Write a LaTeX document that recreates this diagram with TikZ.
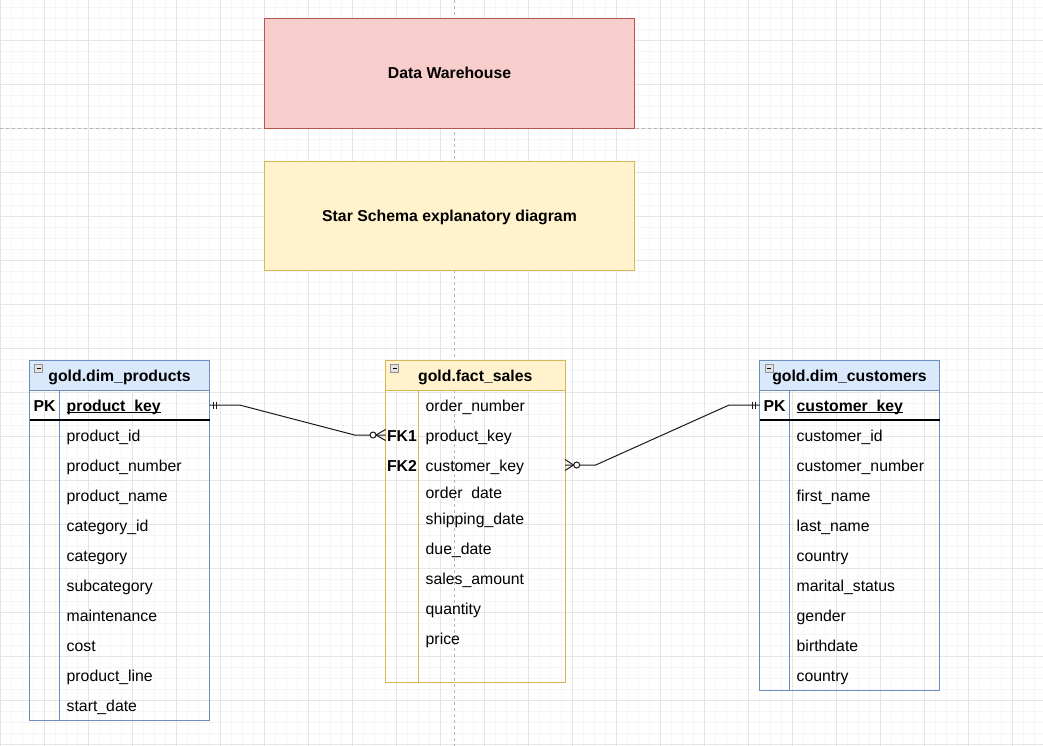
\documentclass[tikz,border=0pt]{standalone}
\usepackage{fontspec}
\setmainfont{Liberation Sans}
\usetikzlibrary{calc}
\definecolor{gridmaj}{HTML}{E5E5E5}
\definecolor{gridmin}{HTML}{F6F6F6}
\definecolor{guide}{HTML}{B3B3B3}
\definecolor{redfill}{HTML}{F8CECC}
\definecolor{redline}{HTML}{B85450}
\definecolor{yelfill}{HTML}{FFF2CC}
\definecolor{yelline}{HTML}{D6B656}
\definecolor{bluefill}{HTML}{DAE8FC}
\definecolor{blueline}{HTML}{6C8EBF}
\definecolor{connc}{HTML}{1A1A1A}
\begin{document}
\begin{tikzpicture}[x=1pt,y=-1pt,
  every node/.style={font=\fontsize{15.8}{19}\selectfont, inner sep=0pt, outer sep=0pt},
  rowtext/.style={anchor=west, text height=14pt, text depth=1.6pt},
  keytext/.style={anchor=center, font=\fontsize{15.8}{19}\selectfont\bfseries, text height=14pt, text depth=1.6pt},
  headtext/.style={keytext},
  bodybox/.style={anchor=north west, draw, line width=1pt},
  headbox/.style={anchor=north west, minimum height=30pt, draw, line width=1pt},
  titlebox/.style={minimum width=370.4pt, draw, line width=1pt, font=\fontsize{15.8}{19}\selectfont\bfseries, text height=13.5pt, text depth=2.5pt},
  conn/.style={line width=1pt, draw=connc},
  iconbox/.style={draw=gray!85, fill=gray!22, line width=0.6pt},
  gmin/.style={draw=gridmin, line width=0.8pt},
  gmaj/.style={draw=gridmaj, line width=0.9pt},
  guideline/.style={draw=guide, line width=0.8pt, dash pattern=on 3pt off 3pt},
]
\useasboundingbox (0,0) rectangle (1043,746);
\fill[white] (0,0) rectangle (1043,746);
% grid
\foreach \i in {0,...,94} \draw[gmin] ({0.7+11*\i},0) -- ({0.7+11*\i},746);
\foreach \i in {0,...,68} \draw[gmin] (0,{7.3+11*\i}) -- (1043,{7.3+11*\i});
\foreach \i in {0,...,23} \draw[gmaj] ({0.7+44*\i},0) -- ({0.7+44*\i},746);
\foreach \i in {0,...,17} \draw[gmaj] (0,{-3.7+44*\i}) -- (1043,{-3.7+44*\i});
% page guides
\draw[guideline] (454.3,0) -- (454.3,746);
\draw[guideline] (0,128.3) -- (1043,128.3);

% title boxes
\node[titlebox, fill=redfill, draw=redline, minimum height=110pt] (dw) at (449.5,73.3) {Data Warehouse};
\node[titlebox, fill=yelfill, draw=yelline, minimum height=109.3pt] (ss) at (449.5,216.3) {Star Schema explanatory diagram};

% ---------- gold.dim_products ----------
\node[bodybox, draw=blueline, minimum width=180pt, minimum height=360pt] (tP) at (29.5,360) {};
\node[headbox, fill=bluefill, draw=blueline, minimum width=180pt] (hP) at (29.5,360) {};
\node[headtext] (nP) at (hP.center) {gold.dim\_products};
\draw[iconbox] ($(hP.north west)+(5,4.5)$) rectangle ++(8,8);
\draw[line width=0.8pt] ($(hP.north west)+(7,8.5)$) -- ++(4,0);
\draw[blueline, line width=1pt] ($(tP.north west)+(30,30)$) -- ($(tP.south west)+(30,0)$);
\draw[line width=1.3pt] ($(tP.north west)+(0,60)$) -- ($(tP.north east)+(0,60)$);
\node[keytext] (kP) at ($(tP.north west)+(15,45)$) {PK};
\node[rowtext, font=\fontsize{15.8}{19}\selectfont\bfseries] (rPkey) at ($(tP.north west)+(37.2,45)$) {product\_key};
\draw[line width=1.2pt] ([yshift=-7.7pt]rPkey.west) -- ([yshift=-7.7pt]rPkey.east);
\foreach \t [count=\i] in {product\_id, product\_number, product\_name, category\_id, category, subcategory, maintenance, cost, product\_line, start\_date}
  \node[rowtext] (rP\i) at ($(tP.north west)+(37.2,{45+30*\i})$) {\t};

% ---------- gold.fact_sales ----------
\node[bodybox, draw=yelline, minimum width=179.5pt, minimum height=322pt] (tF) at (385.5,360) {};
\node[headbox, fill=yelfill, draw=yelline, minimum width=179.5pt] (hF) at (385.5,360) {};
\node[headtext] (nF) at (hF.center) {gold.fact\_sales};
\draw[iconbox] ($(hF.north west)+(5.2,4.5)$) rectangle ++(8,8);
\draw[line width=0.8pt] ($(hF.north west)+(7.2,8.5)$) -- ++(4,0);
\draw[yelline, line width=1pt] ($(tF.north west)+(33,30)$) -- ($(tF.south west)+(33,0)$);
\node[keytext] (kF1) at ($(tF.north west)+(16.5,75)$) {FK1};
\node[keytext] (kF2) at ($(tF.north west)+(16.5,105)$) {FK2};
\foreach \t/\yy [count=\i] in {order\_number/45, product\_key/75, customer\_key/105, order\ \ date/132.3, shipping\_date/157.8, due\_date/188, sales\_amount/218, quantity/248, price/278}
  \node[rowtext] (rF\i) at ($(tF.north west)+(40.2,\yy)$) {\t};

% ---------- gold.dim_customers ----------
\node[bodybox, draw=blueline, minimum width=180pt, minimum height=330pt] (tC) at (759.5,360) {};
\node[headbox, fill=bluefill, draw=blueline, minimum width=180pt] (hC) at (759.5,360) {};
\node[headtext] (nC) at (hC.center) {gold.dim\_customers};
\draw[iconbox] ($(hC.north west)+(5.8,4.7)$) rectangle ++(8,8);
\draw[line width=0.8pt] ($(hC.north west)+(7.8,8.7)$) -- ++(4,0);
\draw[blueline, line width=1pt] ($(tC.north west)+(30,30)$) -- ($(tC.south west)+(30,0)$);
\draw[line width=1.3pt] ($(tC.north west)+(0,60)$) -- ($(tC.north east)+(0,60)$);
\node[keytext] (kC) at ($(tC.north west)+(15,45)$) {PK};
\node[rowtext, font=\fontsize{15.8}{19}\selectfont\bfseries] (rCkey) at ($(tC.north west)+(37.2,45)$) {customer\_key};
\draw[line width=1.2pt] ([yshift=-7.7pt]rCkey.west) -- ([yshift=-7.7pt]rCkey.east);
\foreach \t [count=\i] in {customer\_id, customer\_number, first\_name, last\_name, country, marital\_status, gender, birthdate, country}
  \node[rowtext] (rC\i) at ($(tC.north west)+(37.2,{45+30*\i})$) {\t};

% ---------- connectors ----------
\coordinate (s1) at (tP.east |- rPkey.west);
\coordinate (e1) at (tF.west |- rF2.west);
\coordinate (s2) at (tF.east |- rF3.west);
\coordinate (e2) at (tC.west |- rCkey.west);

\draw[conn] (s1) -- ++(30,0) -- ($(e1)+(-31,0)$) -- (e1);
\draw[conn] ($(s1)+(4,-3.5)$) -- ++(0,7);
\draw[conn] ($(s1)+(7,-3.5)$) -- ++(0,7);
\draw[conn] ($(e1)+(-9.5,0)$) -- ($(e1)+(0,-5.5)$);
\draw[conn] ($(e1)+(-9.5,0)$) -- ($(e1)+(0,5.5)$);
\draw[conn, fill=white] ($(e1)+(-12.5,0)$) circle[radius=3pt];

\draw[conn] (s2) -- ++(30.7,0) -- ($(e2)+(-30.4,0)$) -- (e2);
\draw[conn] ($(s2)+(8.5,0)$) -- ($(s2)+(0,-5.5)$);
\draw[conn] ($(s2)+(8.5,0)$) -- ($(s2)+(0,5.5)$);
\draw[conn, fill=white] ($(s2)+(11.7,0)$) circle[radius=3pt];
\draw[conn] ($(e2)+(-4,-3.5)$) -- ++(0,7);
\draw[conn] ($(e2)+(-7,-3.5)$) -- ++(0,7);
\end{tikzpicture}
\end{document}
